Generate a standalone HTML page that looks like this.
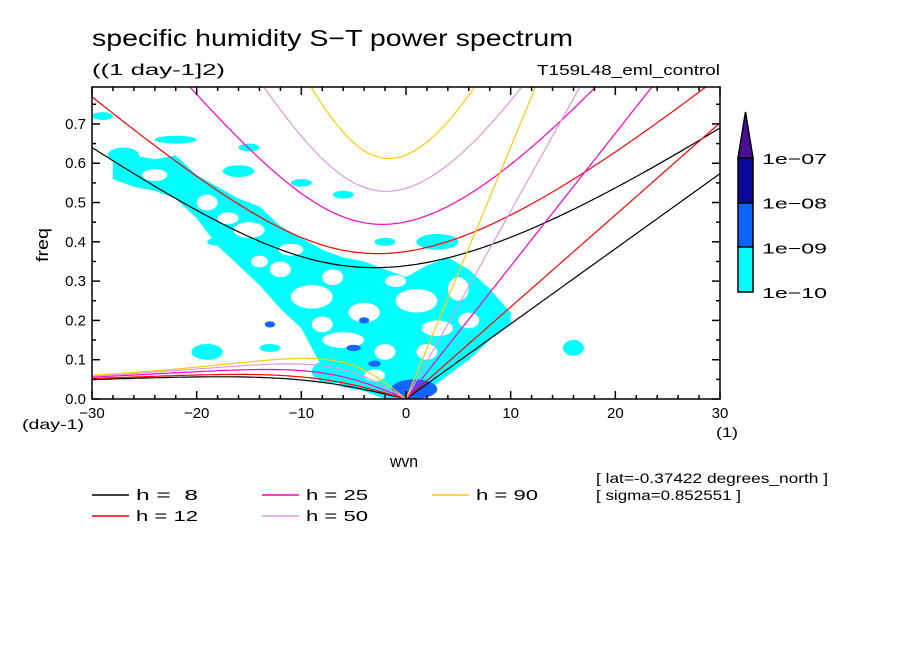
<!DOCTYPE html>
<html><head><meta charset="utf-8">
<style>
body{margin:0;background:#fff;}
svg{display:block;font-family:"Liberation Sans",sans-serif;}
</style></head>
<body>
<svg id="c" width="904" height="654" viewBox="0 0 904 654">
<rect width="904" height="654" fill="#fff"/>
<text x="92" y="46" font-size="23" textLength="481" lengthAdjust="spacingAndGlyphs">specific humidity S−T power spectrum</text>
<text x="92" y="75" font-size="16" textLength="133" lengthAdjust="spacingAndGlyphs">((1 day-1]2)</text>
<text x="720" y="75" font-size="15" text-anchor="end" textLength="183" lengthAdjust="spacingAndGlyphs">T159L48_eml_control</text>
<defs><clipPath id="pc"><rect x="92" y="87" width="628" height="312"/></clipPath></defs>
<g id="fills" clip-path="url(#pc)"></g>
<g id="curves" clip-path="url(#pc)"></g>
<g id="axes"></g>
<text transform="translate(48,245) rotate(-90)" font-size="17" text-anchor="middle" textLength="34" lengthAdjust="spacingAndGlyphs">freq</text>
<text x="404" y="467" font-size="17" text-anchor="middle" textLength="28" lengthAdjust="spacingAndGlyphs">wvn</text>
<text x="22" y="429" font-size="14" textLength="62" lengthAdjust="spacingAndGlyphs">(day-1)</text>
<text x="716" y="437" font-size="14" textLength="22" lengthAdjust="spacingAndGlyphs">(1)</text>
<text x="596" y="483" font-size="14" textLength="232" lengthAdjust="spacingAndGlyphs">[ lat=-0.37422 degrees_north ]</text>
<text x="596" y="500" font-size="14" textLength="145" lengthAdjust="spacingAndGlyphs">[ sigma=0.852551 ]</text>
<g id="legend"></g>
<g id="cbar"></g>
</svg>
<script>
const NS="http://www.w3.org/2000/svg";
// ---- data ----
const depths=[8,12,25,50,90];
const colors=["#000000","#ff0000","#ff00c0","#dd99dd","#ffcc00"];
const bandK=[-28,-26,-24,-22,-20,-18,-16,-14,-12,-10,-8,-6,-4,-2,0,2,4,6,8,10];
const bandLo=[0.56,0.54,0.53,0.51,0.46,0.39,0.34,0.29,0.23,0.18,0.08,0.03,0.02,0.0,0.0,0.02,0.06,0.10,0.15,0.19];
const bandHi=[0.61,0.62,0.61,0.62,0.57,0.54,0.51,0.49,0.44,0.41,0.38,0.36,0.35,0.33,0.31,0.34,0.36,0.33,0.28,0.22];
const holes=[[-15,0.43,1.5,0.02],[-9,0.26,2,0.03],[-4,0.22,1.5,0.025],[1,0.25,2,0.03],[3,0.18,1.5,0.02],[-12,0.33,1,0.02],[-6,0.15,2,0.02],[5,0.28,1,0.03],[-19,0.50,1,0.02],[-2,0.12,1,0.02],[-24,0.57,1.2,0.015],[-17,0.46,1,0.015],[-11,0.38,1.2,0.015],[-7,0.31,1,0.02],[-1,0.30,1,0.015],[6,0.20,1,0.02],[-8,0.19,1,0.02],[-3,0.06,1,0.015],[2,0.12,1,0.02],[-14,0.35,0.8,0.015]];
const patches=[[-29,0.72,1,0.01],[-27,0.62,1.5,0.02],[-22,0.66,2,0.01],[-15,0.64,1,0.01],[-16,0.58,1.5,0.015],[-10,0.55,1,0.01],[-6,0.52,1,0.01],[3,0.40,2,0.02],[-2,0.40,1,0.01],[16,0.13,1,0.02],[-19,0.12,1.5,0.02],[-13,0.13,1,0.01],[-18,0.40,1,0.01],[-7,0.07,2,0.03]];
const darkSpots=[[0.8,0.025,2.2,0.025],[-4,0.20,0.5,0.008],[-5,0.13,0.7,0.008],[-3,0.09,0.6,0.008],[-13,0.19,0.5,0.008]];
const xTicks=[-30,-20,-10,0,10,20,30];
const yTicks=[0,0.1,0.2,0.3,0.4,0.5,0.6,0.7];
const cbLabels=["1e-07","1e-08","1e-09","1e-10"];
// ---- scales ----
const X0=92,X1=720,Y0=399,Y1=87,KMIN=-30,KMAX=30,FMAX=0.794;
const sx=k=>X0+(k-KMIN)/(KMAX-KMIN)*(X1-X0);
const sy=f=>Y0-f/FMAX*(Y0-Y1);
function el(tag,attrs,parent){const e=document.createElementNS(NS,tag);for(const a in attrs)e.setAttribute(a,attrs[a]);parent.appendChild(e);return e;}
// ---- fills ----
const fills=document.getElementById('fills');
let pts=bandK.map((k,i)=>sx(k)+","+sy(bandHi[i]));
for(let i=bandK.length-1;i>=0;i--)pts.push(sx(bandK[i])+","+sy(bandLo[i]));
const band=el('polygon',{points:pts.join(" "),fill:"#00ffff"},fills);


patches.forEach(p=>{const e=el('ellipse',{cx:sx(p[0]),cy:sy(p[1]),rx:p[2]*10.47,ry:p[3]*393,fill:"#00ffff"},fills);

});
holes.forEach(p=>{const e=el('ellipse',{cx:sx(p[0]),cy:sy(p[1]),rx:p[2]*10.47,ry:p[3]*393,fill:"#ffffff"},fills);

});
darkSpots.forEach(p=>{const e=el('ellipse',{cx:sx(p[0]),cy:sy(p[1]),rx:p[2]*10.47,ry:p[3]*393,fill:"#1464ff"},fills);

});
// ---- dispersion curves ----
const curves=document.getElementById('curves');
const a=6.371e6,beta=2*7.292e-5/a,g=9.81,toCpd=86400/(2*Math.PI);
function ig(k,c){
  let w=Math.sqrt(c*c*k*k+3*beta*c)*1.5+1e-6;
  for(let i=0;i<60;i++){const f=w*w*w-c*c*(k*k+3*beta/c)*w-beta*c*c*k;const d=3*w*w-c*c*(k*k+3*beta/c);w-=f/d;}
  return w;}
depths.forEach((h,i)=>{
  const c=Math.sqrt(g*h);let dI="",dR="",dK="";
  for(let kk=KMIN;kk<=KMAX+1e-9;kk+=0.25){
    const k=kk/a;
    const f=ig(k,c)*toCpd;dI+=(dI?"L":"M")+sx(kk).toFixed(1)+" "+sy(f).toFixed(1);
    if(kk<=0){const r=-beta*k/(k*k+3*beta/c)*toCpd;dR+=(dR?"L":"M")+sx(kk).toFixed(1)+" "+sy(r).toFixed(1);}
    if(kk>=0){const kv=c*k*toCpd;dK+=(dK?"L":"M")+sx(kk).toFixed(1)+" "+sy(kv).toFixed(1);}
  }
  [["ig",dI],["rossby",dR],["kelvin",dK]].forEach(([n,d])=>{
    const p=el('path',{d:d,fill:"none",stroke:colors[i],"stroke-width":1.2},curves);
    
    });
});
// ---- axes ----
const ax=document.getElementById('axes');
const fr=el('rect',{x:X0,y:Y1,width:X1-X0,height:Y0-Y1,fill:"none",stroke:"#000","stroke-width":1.5},ax);


for(let k=KMIN;k<=KMAX;k+=2){const maj=k%10===0;
  el('line',{x1:sx(k),x2:sx(k),y1:Y0,y2:Y0-(maj?8:4),stroke:"#000","stroke-width":1.5},ax);
  el('line',{x1:sx(k),x2:sx(k),y1:Y1,y2:Y1+(maj?8:4),stroke:"#000","stroke-width":1.5},ax);}
for(let f=0;f<=0.79;f+=0.05){const maj=Math.abs(f*10-Math.round(f*10))<1e-6;
  el('line',{x1:X0,x2:X0+(maj?8:4),y1:sy(f),y2:sy(f),stroke:"#000","stroke-width":1.5},ax);
  el('line',{x1:X1,x2:X1-(maj?8:4),y1:sy(f),y2:sy(f),stroke:"#000","stroke-width":1.5},ax);}
xTicks.forEach(k=>{const t=el('text',{x:sx(k),y:418,"font-size":15,"text-anchor":"middle"},ax);t.textContent=(k<0?"−":"")+Math.abs(k);
  
  });
yTicks.forEach(f=>{const t=el('text',{x:86,y:sy(f)+5,"font-size":15,"text-anchor":"end"},ax);t.textContent=f.toFixed(1);
  
  });
// ---- legend ----
const lg=document.getElementById('legend');
const lpos=[[92,495],[92,516],[262,495],[262,516],[432,495]];
depths.forEach((h,i)=>{const [x,y]=lpos[i];
  const g1=el('g',{},lg);
  
  
  el('line',{x1:x,x2:x+37,y1:y,y2:y,stroke:colors[i],"stroke-width":1.5},g1);
  const t=el('text',{x:x+44,y:y+5,"font-size":15,textLength:62,lengthAdjust:"spacingAndGlyphs"},g1);t.textContent="h = "+(h<10?"\u00a0":"")+h;});
// ---- colorbar ----
const cb=document.getElementById('cbar');
const boxes=[[158,203,"#0a0a9a"],[203,247,"#0a64ff"],[247,292,"#00ffff"]];
boxes.forEach((b,i)=>{const r=el('rect',{x:738,y:b[0],width:15,height:b[1]-b[0],fill:b[2],stroke:"#000","stroke-width":1.5},cb);
  
  });
const tri=el('polygon',{points:"738,158 753,158 745.5,112",fill:"#4b0f96",stroke:"#000","stroke-width":1.5},cb);


cbLabels.forEach((l,i)=>{const t=el('text',{x:762,y:164+i*44.7,"font-size":15,textLength:65,lengthAdjust:"spacingAndGlyphs"},cb);t.textContent=l.replace("-","−");
  
  });
</script>
</body></html>
